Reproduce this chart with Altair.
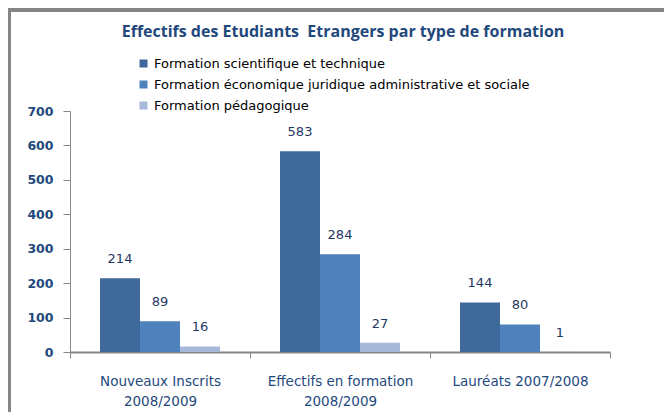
import altair as alt
import pandas as pd

categories = ["Nouveaux Inscrits\n2008/2009", "Effectifs en formation\n2008/2009", "Lauréats 2007/2008"]
series = [
    "Formation scientifique et technique",
    "Formation économique juridique administrative et sociale",
    "Formation pédagogique",
]
scientifique = [214, 583, 144]
economique = [89, 284, 80]
pedagogique = [16, 27, 1]
colors = ["#3F689B", "#4F81BD", "#A7B9D9"]
title_text = ["Effectifs des Etudiants\u00a0 Etrangers par type de formation"]

rows = []
for s, vals in zip(series, [scientifique, economique, pedagogique]):
    for c, v in zip(categories, vals):
        rows.append({"cat": c, "serie": s, "val": v})
df = pd.DataFrame(rows)

navy = "#1F497D"
gray = "#868686"
font = "DejaVu Sans"

base = alt.Chart(df).encode(
    x=alt.X(
        "cat:N",
        sort=categories,
        scale=alt.Scale(paddingInner=0, paddingOuter=0),
        axis=alt.Axis(
            title=None,
            labelAngle=0,
            labelExpr="split(datum.label, '\\n')",
            tickBand="extent",
            tickSize=6,
            tickColor=gray,
            domainColor=gray,
            domainWidth=2,
            labelColor=navy,
            labelFont=font,
            labelFontSize=13.5,
            labelLineHeight=20,
            labelPadding=16,
            labelBaseline="top",
        ),
    ),
    xOffset=alt.XOffset("serie:N", sort=series, scale=alt.Scale(paddingInner=0, paddingOuter=0.75)),
    y=alt.Y(
        "val:Q",
        scale=alt.Scale(domain=[0, 700], nice=False),
        axis=alt.Axis(
            title=None,
            values=[0, 100, 200, 300, 400, 500, 600, 700],
            grid=False,
            tickSize=7,
            tickColor=gray,
            domainColor=gray,
            labelColor=navy,
            labelFont=font,
            labelFontSize=12.5,
            labelFontWeight="bold",
            labelPadding=10,
        ),
    ),
)

bars = base.mark_bar().encode(
    color=alt.Color(
        "serie:N",
        sort=series,
        scale=alt.Scale(domain=series, range=colors),
        legend=alt.Legend(
            title=None,
            orient="none",
            legendX=67,
            legendY=-54,
            symbolType="square",
            symbolSize=64,
            symbolStrokeWidth=0,
            labelFont=font,
            labelFontSize=13,
            labelColor="#000000",
            rowPadding=7,
            labelLimit=600,
        ),
    )
)

labels = base.mark_text(dy=-19, font=font, fontSize=13, color="#1F3864").encode(
    text=alt.Text("val:Q")
)

top_border = alt.Chart(df).mark_rule(color=gray, strokeWidth=3).encode(
    x=alt.value(-62), x2=alt.value(594), y=alt.value(-101)
)
left_border = alt.Chart(df).mark_rule(color=gray, strokeWidth=3).encode(
    x=alt.value(-61), y=alt.value(-102), y2=alt.value(301)
)

title = alt.Chart(pd.DataFrame({"t": title_text})).mark_text(
    font="Open Sans", fontSize=16, fontWeight="bold", color=navy, baseline="middle"
).encode(x=alt.value(273), y=alt.value(-79), text="t:N")

chart = (
    alt.layer(top_border, left_border, title, bars, labels)
    .properties(
        width=540,
        height=241,
        padding={"left": 62, "top": 103, "right": 54, "bottom": 60},
        autosize=alt.AutoSizeParams(type="none"),
    )
    .configure_view(stroke=None)
)

chart.save("out.html", embed_options={"renderer": "svg", "actions": False})
